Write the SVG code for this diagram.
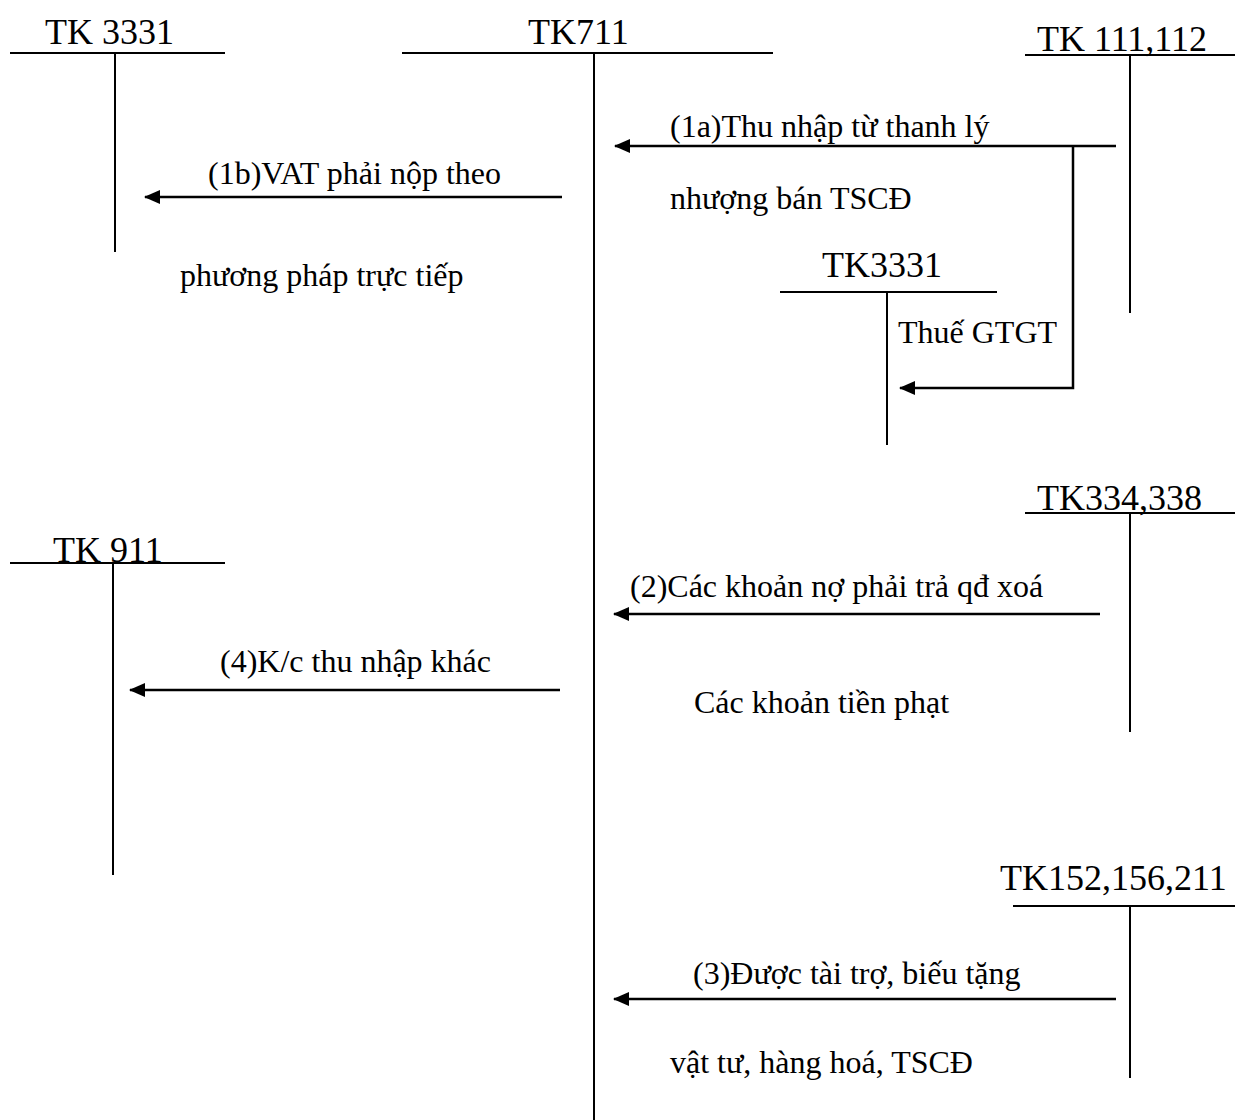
<svg xmlns="http://www.w3.org/2000/svg" width="1235" height="1120" viewBox="0 0 1235 1120">
<style>
  .acc line { stroke: #000; stroke-width: 2; }
  .h { font-family: "Liberation Serif", "Times New Roman", serif; font-size: 36px; fill: #000; }
  .t { font-family: "Liberation Serif", "Times New Roman", serif; font-size: 32px; fill: #000; }
  .arr { stroke: #000; stroke-width: 2.5; fill: none; marker-end: url(#ah); }
</style>
<defs>
  <marker id="ah" viewBox="0 0 16 14" refX="15" refY="7" markerWidth="16" markerHeight="14" markerUnits="userSpaceOnUse" orient="auto">
    <path d="M0,0 L16,7 L0,14 z" fill="#000"/>
  </marker>
</defs>
<rect width="1235" height="1120" fill="#fff"/>
<g id="tk3331-left" class="acc">
  <text class="h" x="45" y="44">TK 3331</text>
  <line x1="10" y1="53" x2="225" y2="53"/>
  <line x1="115" y1="53" x2="115" y2="252"/>
</g>
<g id="tk711" class="acc">
  <text class="h" x="528" y="44">TK711</text>
  <line x1="402" y1="53" x2="773" y2="53"/>
  <line x1="594" y1="53" x2="594" y2="1120"/>
</g>
<g id="tk111" class="acc">
  <text class="h" x="1037" y="51">TK 111,112</text>
  <line x1="1025" y1="55" x2="1235" y2="55"/>
  <line x1="1130" y1="55" x2="1130" y2="313"/>
</g>
<g id="tk3331-mid" class="acc">
  <text class="h" x="822" y="277">TK3331</text>
  <line x1="780" y1="292" x2="997" y2="292"/>
  <line x1="887" y1="292" x2="887" y2="445"/>
</g>
<g id="tk334" class="acc">
  <text class="h" x="1037" y="510">TK334,338</text>
  <line x1="1025" y1="513" x2="1235" y2="513"/>
  <line x1="1130" y1="513" x2="1130" y2="732"/>
</g>
<g id="tk911" class="acc">
  <text class="h" x="53" y="562">TK 911</text>
  <line x1="10" y1="563" x2="225" y2="563"/>
  <line x1="113" y1="563" x2="113" y2="875"/>
</g>
<g id="tk152" class="acc">
  <text class="h" x="1000" y="890">TK152,156,211</text>
  <line x1="1013" y1="906" x2="1235" y2="906"/>
  <line x1="1130" y1="906" x2="1130" y2="1078"/>
</g>
<g id="connectors">
  <path class="arr" d="M1116,146 L615,146"/>
  <path class="arr" d="M1073,146 L1073,388 L900,388"/>
  <path class="arr" d="M562,197 L145,197"/>
  <path class="arr" d="M1100,614 L614,614"/>
  <path class="arr" d="M560,690 L130,690"/>
  <path class="arr" d="M1116,999 L614,999"/>
</g>
<g id="labels">
  <text class="t" x="670" y="137">(1a)Thu nhập từ thanh lý</text>
  <text class="t" x="670" y="209">nhượng bán TSCĐ</text>
  <text class="t" x="898" y="343">Thuế GTGT</text>
  <text class="t" x="208" y="184">(1b)VAT phải nộp theo</text>
  <text class="t" x="180" y="286">phương pháp trực tiếp</text>
  <text class="t" x="630" y="597">(2)Các khoản nợ phải trả qđ xoá</text>
  <text class="t" x="694" y="713">Các khoản tiền phạt</text>
  <text class="t" x="220" y="672">(4)K/c thu nhập khác</text>
  <text class="t" x="693" y="984">(3)Được tài trợ, biếu tặng</text>
  <text class="t" x="670" y="1073">vật tư, hàng hoá, TSCĐ</text>
</g>
</svg>
